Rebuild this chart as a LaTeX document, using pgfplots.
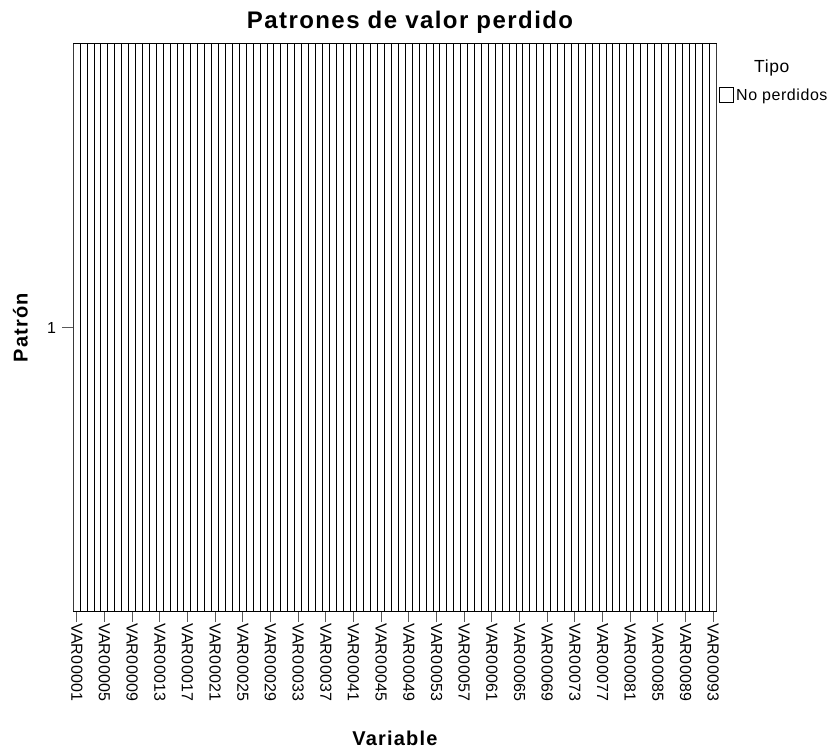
\documentclass[border=0pt]{standalone}
\usepackage{pgfplots}
\pgfplotsset{compat=1.18}
\usepackage{fontspec}
\setmainfont{Liberation Sans}
\newfontfamily\tickfont[LetterSpace=2]{Liberation Sans}
\newfontfamily\legfont[LetterSpace=3.5]{Liberation Sans}
\newfontfamily\titlefont[LetterSpace=6]{Liberation Sans}
\newfontfamily\labelfont[LetterSpace=6]{Liberation Sans}
\begin{document}
\begin{tikzpicture}
\path[use as bounding box] (0,0) rectangle (831bp,750bp);
\begin{axis}[
  at={(73.3bp,139bp)}, anchor=south west,
  scale only axis, width=643.4bp, height=567bp,
  xmin=0.5, xmax=93.5, ymin=0, ymax=2,
  xtick={1,5,...,93},
  xticklabels={VAR00001,VAR00005,VAR00009,VAR00013,VAR00017,VAR00021,VAR00025,VAR00029,VAR00033,VAR00037,VAR00041,VAR00045,VAR00049,VAR00053,VAR00057,VAR00061,VAR00065,VAR00069,VAR00073,VAR00077,VAR00081,VAR00085,VAR00089,VAR00093},
  ytick={1}, yticklabels={1},
  xtick pos=bottom, ytick pos=left,
  tick align=outside, major tick length=11bp,
  tick style={black!65, line width=1bp},
  axis line style={black, line width=1bp},
  xticklabel style={rotate=-90, anchor=west, inner sep=1bp, font=\tickfont\fontsize{16bp}{18bp}\selectfont},
  yticklabel style={inner sep=0bp, xshift=-6bp, font=\tickfont\fontsize{16bp}{18bp}\selectfont},
  title={Patrones de valor perdido},
  title style={at={(axis description cs:0.5,1)}, anchor=center, xshift=15bp, yshift=16bp, font=\titlefont\bfseries\fontsize{24bp}{27bp}\selectfont},
  xlabel={Variable},
  xlabel style={at={(axis description cs:0.5,0)}, anchor=center, inner sep=1bp, yshift=-127bp, font=\labelfont\bfseries\fontsize{20bp}{22bp}\selectfont},
  ylabel={Patrón},
  ylabel style={at={(axis description cs:0,0.5)}, anchor=center, yshift=53bp, font=\labelfont\bfseries\fontsize{20bp}{22bp}\selectfont},
  legend style={at={(axis description cs:1,0.976)}, anchor=north west, draw=none, fill=none, inner sep=0bp, outer sep=0bp, row sep=11bp, font=\legfont\fontsize{16bp}{18bp}\selectfont, cells={anchor=west}, /tikz/every even column/.append style={column sep=2bp}},
  legend cell align=left,
]
\addlegendimage{empty legend}
\addlegendentry{\hspace{18bp}{\fontsize{17.5bp}{19bp}\selectfont Tipo}}
\addplot[ybar, bar width=1, bar shift=0pt, fill=white, draw=black, line width=1bp,
  legend image code/.code={\draw[fill=white, draw=black, line width=1bp] (3bp,-7.5bp) rectangle (17bp,7.5bp);}]
coordinates {
(1,2) (2,2) (3,2) (4,2) (5,2) (6,2) (7,2) (8,2) (9,2) (10,2)
(11,2) (12,2) (13,2) (14,2) (15,2) (16,2) (17,2) (18,2) (19,2) (20,2)
(21,2) (22,2) (23,2) (24,2) (25,2) (26,2) (27,2) (28,2) (29,2) (30,2)
(31,2) (32,2) (33,2) (34,2) (35,2) (36,2) (37,2) (38,2) (39,2) (40,2)
(41,2) (42,2) (43,2) (44,2) (45,2) (46,2) (47,2) (48,2) (49,2) (50,2)
(51,2) (52,2) (53,2) (54,2) (55,2) (56,2) (57,2) (58,2) (59,2) (60,2)
(61,2) (62,2) (63,2) (64,2) (65,2) (66,2) (67,2) (68,2) (69,2) (70,2)
(71,2) (72,2) (73,2) (74,2) (75,2) (76,2) (77,2) (78,2) (79,2) (80,2)
(81,2) (82,2) (83,2) (84,2) (85,2) (86,2) (87,2) (88,2) (89,2) (90,2)
(91,2) (92,2) (93,2)
};
\addlegendentry{No perdidos}
\end{axis}
\end{tikzpicture}
\end{document}
